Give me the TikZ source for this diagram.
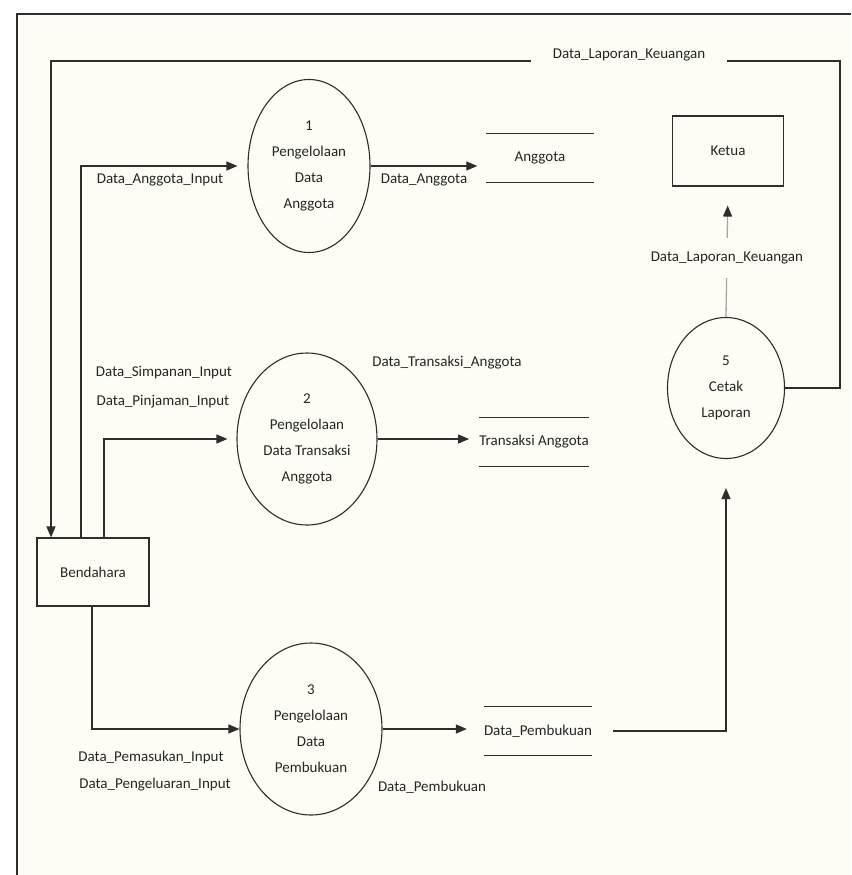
\documentclass[tikz,border=0pt]{standalone}
\usepackage{fontspec}
\setmainfont{Carlito}
\usetikzlibrary{shapes.geometric,arrows.meta}
\definecolor{paper}{RGB}{253,253,246}
\definecolor{ink}{RGB}{45,45,45}
\begin{document}
\begin{tikzpicture}[x=1pt,y=-1pt,
    >={Triangle[length=11pt,width=9pt,color=ink]},
    every node/.style={font=\fontsize{15}{26}\selectfont,text=black!85},
    flow/.style={draw=ink,line width=1.3pt,->},
    proc/.style={ellipse,draw=ink,line width=1.1pt,align=center,inner sep=0pt},
    ent/.style={rectangle,draw=ink,line width=1.1pt},
    store/.style={minimum height=48pt,inner sep=0pt},
    lbl/.style={fill=paper,inner sep=3pt}]
    \fill[white] (0,0) rectangle (851,875);
    \useasboundingbox (0,0) rectangle (851,875);
    \fill[paper] (17,14) rectangle (851,875);
    \draw[ink,line width=1.4pt] (17,875) -- (17,14) -- (851,14);
    % processes
    \node[proc,minimum width=122pt,minimum height=173pt] (p1) at (309,166) {1\\Pengelolaan\\Data\\Anggota};
    \node[proc,minimum width=140pt,minimum height=172pt] (p2) at (307,439) {2\\Pengelolaan\\Data Transaksi\\Anggota};
    \node[proc,minimum width=142pt,minimum height=172pt] (p3) at (311,729) {3\\Pengelolaan\\Data\\Pembukuan};
    \node[proc,minimum width=117pt,minimum height=141pt] (p5) at (726,388) {5\\Cetak\\Laporan};
    % entities
    \node[ent,minimum width=111pt,minimum height=70pt] (ket) at (728,151) {Ketua};
    \node[ent,minimum width=112pt,minimum height=68pt] (ben) at (93,572) {Bendahara};
    % stores
    \node[store,minimum width=107pt] (sa) at (540,158) {Anggota};
    \node[store,minimum width=108pt,minimum height=49pt] (sta) at (534,442) {Transaksi Anggota};
    \node[store,minimum width=108pt] (spb) at (538,731) {Data\_Pembukuan};
    \foreach \s in {sa,sta,spb}
        {\draw[ink,line width=1.3pt] (\s.north west) -- (\s.north east) (\s.south west) -- (\s.south east);
        }
    % flows
    \coordinate (fb) at (840,61);
    \coordinate (fl) at (51,61);
    \draw[flow] (p5.east) -| (fb) -- (fl) -- (fl |- ben.north);
    \node[lbl,inner xsep=22pt,inner ysep=6pt] (l1) at (629,55) {Data\_Laporan\_Keuangan};
    \coordinate (c1) at (81,166);
    \draw[flow,shorten >=10pt] (c1 |- ben.north) |- (p1.west);
    \node (l2) at (160,180) {Data\_Anggota\_Input};
    \draw[flow,shorten >=9pt] (p1.east) -- (sa.west |- p1.east);
    \node (l3) at (424,180) {Data\_Anggota};
    \coordinate (c2) at (104,439);
    \draw[flow,shorten >=9pt] (c2 |- ben.north) |- (p2.west);
    \node (l4) at (164,373) {Data\_Simpanan\_Input};
    \node (l5) at (163,402) {Data\_Pinjaman\_Input};
    \draw[flow,shorten >=10pt] (p2.east) -- (sta.west |- p2.east);
    \node (l6) at (447,363) {Data\_Transaksi\_Anggota};
    \coordinate (c3) at (92,731);
    \draw[flow] (c3 |- ben.south) |- (p3.west);
    \node (l7) at (151,757) {Data\_Pemasukan\_Input};
    \node (l8) at (155,785) {Data\_Pengeluaran\_Input};
    \draw[flow,shorten >=17pt] (p3.east) -- (spb.west |- p3.east);
    \node (l9) at (432,787) {Data\_Pembukuan};
    \draw[flow,shorten <=21pt,shorten >=29pt] (spb.east) -| (p5.south);
    \draw[flow,draw=gray!70,shorten >=19pt] (p5.north) -- (ket.south)
        node[lbl,pos=0.45,inner ysep=14pt] (l10) {Data\_Laporan\_Keuangan};
\end{tikzpicture}
\end{document}
